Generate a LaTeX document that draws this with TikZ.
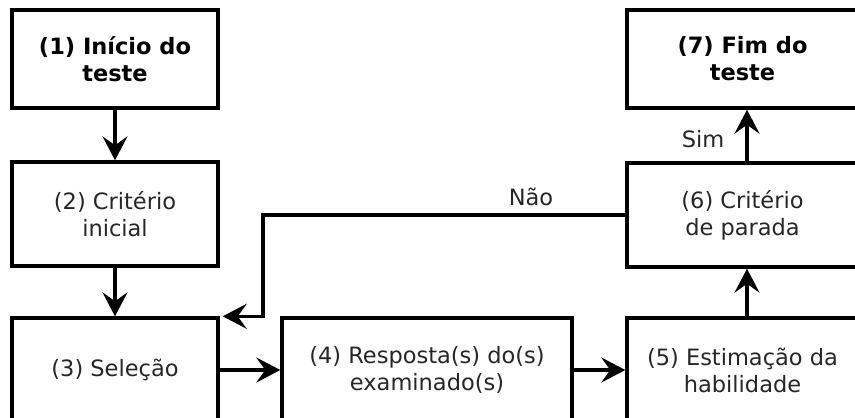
\documentclass[tikz,border=0pt]{standalone}
\usepackage{fontspec}
\setmainfont{DejaVu Sans}
\usetikzlibrary{arrows.meta}
\begin{document}
\begin{tikzpicture}[x=1pt,y=-1pt,
  box/.style={draw=black, line width=3.4pt, align=center, inner sep=0pt, text=black!85, font=\fontsize{22.5}{27}\selectfont},
  boldbox/.style={box, text=black, font=\fontsize{22.5}{27}\selectfont\bfseries},
  conn/.style={line width=3.4pt, -{Stealth[length=24pt,width=25pt,inset=9pt]}},
  lbl/.style={text=black!85, font=\fontsize{22.5}{27}\selectfont, inner sep=0pt}]
\useasboundingbox (0,0) rectangle (855,418);
\clip (0,0) rectangle (855,418);
\node[boldbox, minimum width=206pt, minimum height=98pt] (b1) at (115,59) {(1) Início do\\teste};
\node[box, minimum width=206pt, minimum height=104pt] (b2) at (115,214) {(2) Critério\\inicial};
\node[box, minimum width=206pt, minimum height=104pt] (b3) at (115,370) {(3) Seleção};
\node[box, minimum width=290pt, minimum height=104pt] (b4) at (427,370) {(4) Resposta(s) do(s)\\examinado(s)};
\node[box, minimum width=231pt, minimum height=104pt] (b5) at (742.5,370) {(5) Estimação da\\habilidade};
\node[box, minimum width=231pt, minimum height=104pt] (b6) at (742.5,215) {(6) Critério\\de parada};
\node[boldbox, minimum width=231pt, minimum height=98pt] (b7) at (742.5,59) {(7) Fim do\\teste};
\coordinate (ax) at (747,0);
\coordinate (turn) at (263,0);
\draw[conn] (b1) -- (b2);
\draw[conn] (b2) -- (b3);
\draw[conn] (b3) -- (b4);
\draw[conn] (b4) -- (b5);
\draw[conn] (b5.north -| ax) -- (b6.south -| ax);
\draw[conn] (b6.north -| ax) -- (b7.south -| ax);
\draw[conn] (b6.west) -| (turn |- b3.north) -- ([xshift=3pt]b3.north east);
\node[lbl] (sim) at (703,139) {Sim};
\node[lbl] (nao) at (531,197) {Não};
\end{tikzpicture}
\end{document}
